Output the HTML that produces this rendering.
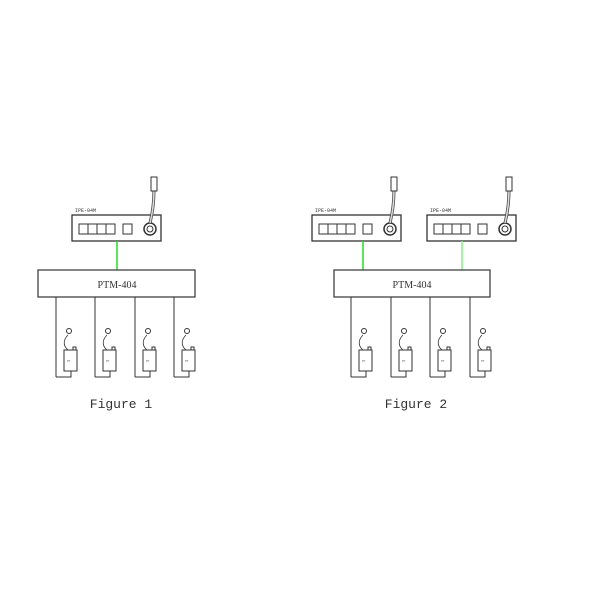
<!DOCTYPE html>
<html><head><meta charset="utf-8"><style>body{margin:0;background:#fff}svg{display:block}</style></head><body>
<svg width="600" height="600" viewBox="0 0 600 600" xmlns="http://www.w3.org/2000/svg" font-family="Liberation Mono, monospace">
<defs>
<g id="ipe" fill="none" stroke="#333" stroke-width="1">
  <text x="3" y="-3" font-size="5" fill="#333" stroke="none">IPE-04M</text>
  <rect x="0" y="0" width="89" height="26" stroke-width="1.3"/>
  <rect x="7" y="9" width="9" height="10"/><rect x="16" y="9" width="9" height="10"/>
  <rect x="25" y="9" width="9" height="10"/><rect x="34" y="9" width="9" height="10"/>
  <rect x="51" y="9" width="9" height="10"/>
  <circle cx="78" cy="14" r="6" stroke-width="1.5"/>
  <circle cx="78" cy="14" r="3"/>
  <path d="M78 8 C80 0 82 -10 82 -25" stroke-width="3" stroke="#444"/>
  <path d="M78 8 C80 0 82 -10 82 -25" stroke-width="1.5" stroke="#ddd"/>
  <rect x="79" y="-38" width="6" height="14" fill="#fff"/>
</g>
<g id="dev" fill="none" stroke="#333" stroke-width="1">
  <path d="M0 80 V0 M0 80 H15 V74"/>
  <rect x="8" y="53" width="13" height="21" fill="#fff"/>
  <rect x="17" y="50" width="3" height="3"/>
  <text x="11" y="65" font-size="3" fill="#555" stroke="none">PT</text>
  <path d="M12 53 C6 48 8 42 12 38" stroke-width="0.8"/>
  <circle cx="13" cy="34" r="2.5"/>
</g>
</defs>
<use href="#ipe" x="72" y="215"/>
<line x1="117" y1="241" x2="117" y2="270" stroke="#2d2" stroke-width="1.5"/>
<rect x="38" y="270" width="157" height="27" fill="none" stroke="#333" stroke-width="1.2"/>
<text x="117" y="288" font-size="10" text-anchor="middle" fill="#333" font-family="Liberation Serif, serif">PTM-404</text>
<use href="#dev" x="56" y="297"/><use href="#dev" x="95" y="297"/>
<use href="#dev" x="135" y="297"/><use href="#dev" x="174" y="297"/>
<text x="121" y="408" font-size="13" text-anchor="middle" fill="#333">Figure 1</text>

<use href="#ipe" x="312" y="215"/>
<use href="#ipe" x="427" y="215"/>
<line x1="363" y1="241" x2="363" y2="270" stroke="#2d2" stroke-width="1.5"/>
<line x1="462" y1="241" x2="462" y2="270" stroke="#8e8" stroke-width="1.5"/>
<rect x="334" y="270" width="156" height="27" fill="none" stroke="#333" stroke-width="1.2"/>
<text x="412" y="288" font-size="10" text-anchor="middle" fill="#333" font-family="Liberation Serif, serif">PTM-404</text>
<use href="#dev" x="351" y="297"/><use href="#dev" x="391" y="297"/>
<use href="#dev" x="430" y="297"/><use href="#dev" x="470" y="297"/>
<text x="416" y="408" font-size="13" text-anchor="middle" fill="#333">Figure 2</text>
</svg>
</body></html>
